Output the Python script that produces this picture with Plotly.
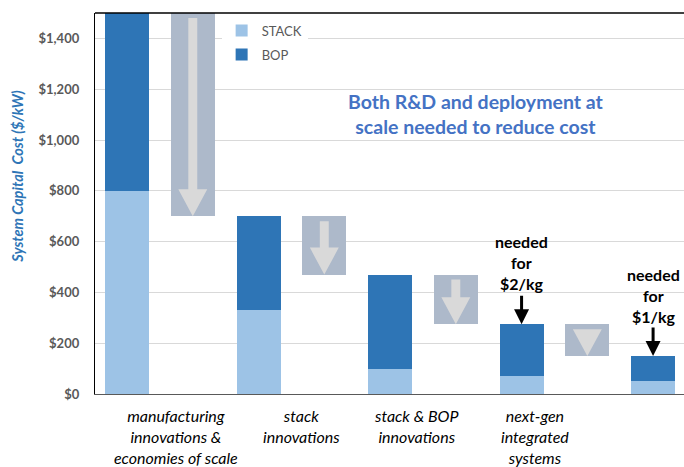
import plotly.graph_objects as go

# ---- data ----
bar_positions = [0, 2, 4, 6, 8]
stack_values = [800, 330, 100, 70, 50]
bop_values = [700, 370, 370, 205, 100]
step_positions = [1, 3, 5, 7]
step_labels = [
    "manufacturing<br>innovations &<br>economies of scale",
    "stack<br>innovations",
    "stack & BOP<br>innovations",
    "next-gen<br>integrated<br>systems",
]
y_ticks = [0, 200, 400, 600, 800, 1000, 1200, 1400]

totals = [s + b for s, b in zip(stack_values, bop_values)]
step_base = totals[1:]
step_height = [totals[i] - totals[i + 1] for i in range(len(totals) - 1)]

FONT = "Lato"
C_STACK = "#9DC3E6"
C_BOP = "#2E75B6"
C_BOX = "#ADB9CA"
C_ARROW = "#D9D9D9"

fig = go.Figure()
fig.add_trace(go.Bar(x=bar_positions, y=stack_values, name="STACK", legendgroup="a",
                     marker=dict(color=C_STACK, line=dict(width=0)), width=0.67))
fig.add_trace(go.Bar(x=bar_positions, y=bop_values, base=stack_values, name="BOP",
                     legendgroup="b",
                     marker=dict(color=C_BOP, line=dict(width=0)), width=0.67))
fig.add_trace(go.Bar(x=step_positions, y=step_height, base=step_base, showlegend=False,
                     marker=dict(color=C_BOX, line=dict(width=0)), width=0.67,
                     hoverinfo="skip"))

# block arrows inside the step boxes (derived from data)
px_per_unit = 381 / 1500.0
shaft_hw = 0.068
head_hw = 0.22
head_h = 27 / px_per_unit
top_gap = 5 / px_per_unit
shapes = []
for xp, b, h in zip(step_positions, step_base, step_height):
    top = b + h - top_gap
    tip = b
    head_top = tip + head_h
    if head_top > top:
        head_top = top
    path = (f"M {xp-shaft_hw},{top} L {xp+shaft_hw},{top} L {xp+shaft_hw},{head_top} "
            f"L {xp+head_hw},{head_top} L {xp},{tip} L {xp-head_hw},{head_top} "
            f"L {xp-shaft_hw},{head_top} Z")
    shapes.append(dict(type="path", path=path, xref="x", yref="y",
                       fillcolor=C_ARROW, line=dict(width=0), layer="above"))
# top frame line
shapes.append(dict(type="line", xref="paper", yref="paper", x0=0, x1=1, y0=1, y1=1,
                   line=dict(color="#000000", width=1.5)))

annotations = []
for xp, lab in zip([0.745, 2.65, 4.40, 6.21], step_labels):
    annotations.append(dict(x=xp, xref="x", y=-0.026, yref="paper", text=lab,
                            showarrow=False, yanchor="top", xanchor="center",
                            font=dict(family=FONT, size=16, color="#000000",
                                      style="italic")))
annotations.append(dict(x=5.31, xref="x", y=1102, yref="y",
                        text="<b>Both R&D and deployment at<br>scale needed to reduce cost</b>",
                        showarrow=False, xanchor="center",
                        font=dict(family=FONT, size=19.5, color="#4472C4")))
# "needed for" callouts
annotations.append(dict(x=bar_positions[3], y=516, xref="x", yref="y",
                        text="<b>needed<br>for<br>$2/kg</b>", showarrow=False,
                        xanchor="center",
                        font=dict(family=FONT, size=16, color="#000000")))
annotations.append(dict(x=bar_positions[3], y=totals[3], xref="x", yref="y", text="",
                        showarrow=True, ax=0, ay=-30, arrowhead=2, arrowsize=1,
                        arrowwidth=3, arrowcolor="#000000"))
annotations.append(dict(x=bar_positions[4], y=386, xref="x", yref="y",
                        text="<b>needed<br>for<br>$1/kg</b>", showarrow=False,
                        xanchor="center",
                        font=dict(family=FONT, size=16, color="#000000")))
annotations.append(dict(x=bar_positions[4], y=totals[4], xref="x", yref="y", text="",
                        showarrow=True, ax=0, ay=-30, arrowhead=2, arrowsize=1,
                        arrowwidth=3, arrowcolor="#000000"))
# y-axis title
annotations.append(dict(x=-0.131, xref="paper", y=0.57, yref="paper",
                        text="<b><i>System Capital\u00a0 Cost ($/kW)</i></b>",
                        textangle=-90, showarrow=False, xanchor="center",
                        yanchor="middle",
                        font=dict(family=FONT, size=14.5, color="#2E75B6")))

fig.update_layout(
    width=684, height=467,
    margin=dict(l=95, r=0, t=13, b=73),
    paper_bgcolor="white", plot_bgcolor="white",
    barmode="overlay",
    font=dict(family=FONT),
    showlegend=True,
    legend=dict(x=0.215, y=0.993, xanchor="left", yanchor="top",
                bgcolor="white", traceorder="grouped",
                font=dict(family=FONT, size=13, color="#595959"),
                itemwidth=30, tracegroupgap=4),
    shapes=shapes,
    annotations=annotations,
    xaxis=dict(range=[-0.487, 8.47], showticklabels=False, showgrid=False,
               zeroline=False, showline=True, linecolor="#595959", linewidth=1.3,
               ticks=""),
    yaxis=dict(range=[0, 1500], tickvals=y_ticks,
               ticktext=[f"<b>${v:,}</b>" for v in y_ticks],
               showgrid=True, gridcolor="#D9D9D9", gridwidth=1,
               zeroline=False, showline=True, linecolor="#000000", linewidth=1.3,
               ticks="", ticklabelstandoff=12,
               tickfont=dict(family=FONT, size=13, color="#595959")),
    bargap=0,
)

fig.write_html("out.html", config={"displayModeBar": False},
               post_script="document.body.style.margin='0';document.body.style.overflow='hidden';")
